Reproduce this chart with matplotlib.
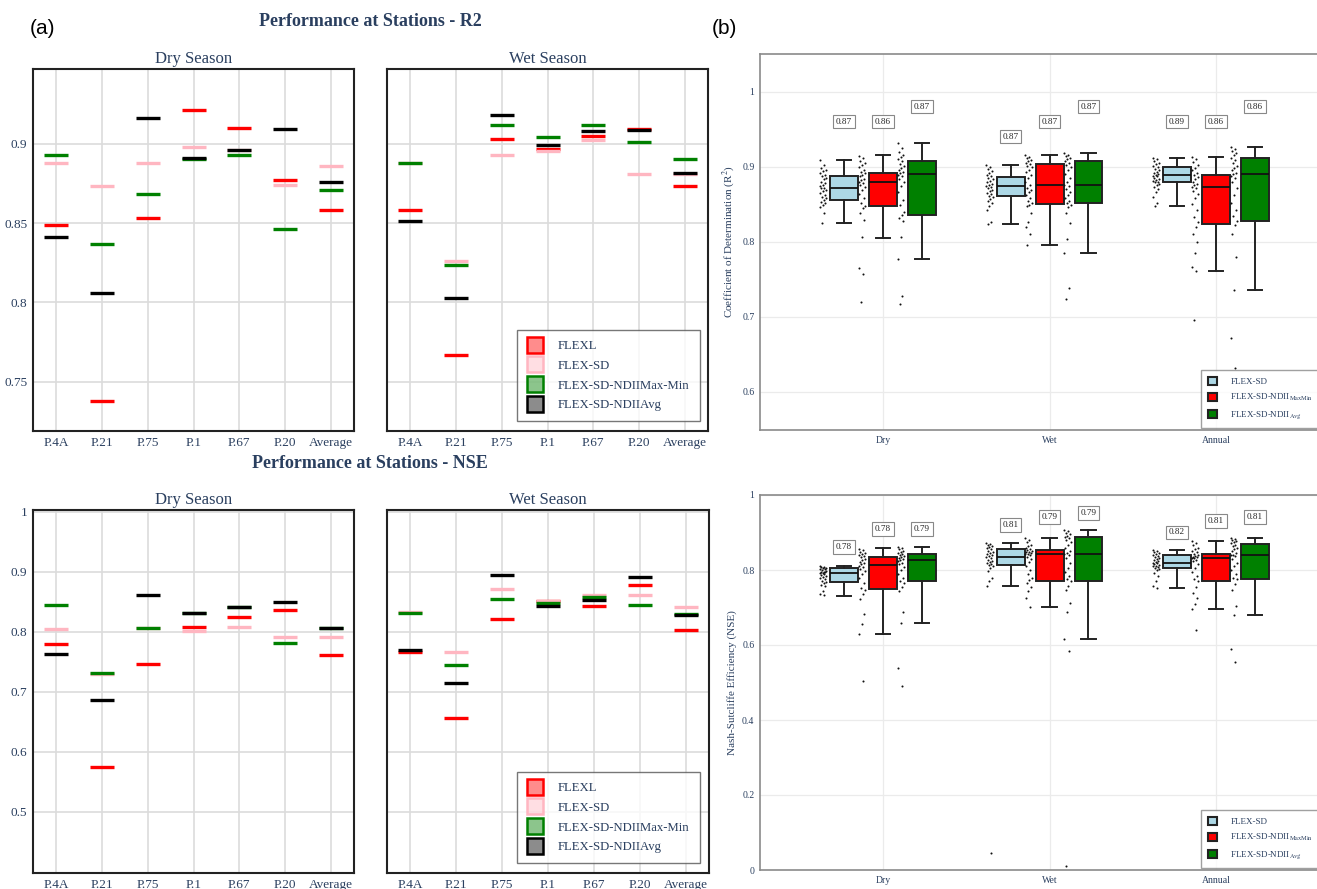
import numpy as np
import matplotlib
matplotlib.use('Agg')
import matplotlib.pyplot as plt
from matplotlib.lines import Line2D
from matplotlib.patches import Patch
from matplotlib.colors import to_rgba

plt.rcParams['font.family'] = ['Liberation Serif', 'DejaVu Serif']
plt.rcParams['mathtext.fontset'] = 'stix'

TXT = '#2a3f5f'
W, H = 1317, 889

# ---------------- (a) station scores ----------------
stations = ['P.4A', 'P.21', 'P.75', 'P.1', 'P.67', 'P.20', 'Average']
models_a = ['FLEXL', 'FLEX-SD', 'FLEX-SD-NDIIMax-Min', 'FLEX-SD-NDIIAvg']
colors_a = ['red', '#ffb6c1', 'green', 'black']

r2_dry_flexl = [0.849, 0.738, 0.853, 0.921, 0.910, 0.877, 0.858]
r2_dry_sd = [0.888, 0.873, 0.888, 0.898, 0.896, 0.874, 0.886]
r2_dry_maxmin = [0.893, 0.837, 0.868, 0.890, 0.893, 0.846, 0.871]
r2_dry_avg = [0.841, 0.806, 0.916, 0.891, 0.896, 0.909, 0.876]

r2_wet_flexl = [0.858, 0.767, 0.903, 0.8965, 0.905, 0.9095, 0.873]
r2_wet_sd = [0.888, 0.826, 0.893, 0.8955, 0.902, 0.881, 0.881]
r2_wet_maxmin = [0.888, 0.8235, 0.912, 0.904, 0.912, 0.901, 0.890]
r2_wet_avg = [0.851, 0.803, 0.918, 0.899, 0.908, 0.9088, 0.8816]

nse_dry_flexl = [0.779, 0.574, 0.747, 0.808, 0.824, 0.837, 0.761]
nse_dry_sd = [0.805, 0.730, 0.806, 0.802, 0.808, 0.792, 0.791]
nse_dry_maxmin = [0.844, 0.731, 0.806, 0.832, 0.841, 0.781, 0.806]
nse_dry_avg = [0.763, 0.687, 0.861, 0.8305, 0.842, 0.849, 0.8055]

nse_wet_flexl = [0.767, 0.656, 0.821, 0.852, 0.843, 0.878, 0.803]
nse_wet_sd = [0.833, 0.766, 0.872, 0.851, 0.861, 0.862, 0.841]
nse_wet_maxmin = [0.832, 0.744, 0.854, 0.848, 0.858, 0.844, 0.829]
nse_wet_avg = [0.769, 0.714, 0.894, 0.843, 0.853, 0.8915, 0.8285]

# ---------------- (b) box plots ----------------
seasons = ['Dry', 'Wet', 'Annual']
models_b = ['FLEX-SD', r'FLEX-SD-NDII$_{\mathrm{MaxMin}}$', r'FLEX-SD-NDII$_{\mathrm{Avg}}$']
colors_b = ['lightblue', 'red', 'green']

# per season: [FLEX-SD, MaxMin, Avg]
r2_whislo = [[0.825, 0.805, 0.777], [0.824, 0.795, 0.785], [0.848, 0.761, 0.735]]
r2_q1 = [[0.856, 0.847, 0.836], [0.861, 0.850, 0.851], [0.879, 0.824, 0.827]]
r2_med = [[0.872, 0.880, 0.890], [0.874, 0.876, 0.875], [0.889, 0.873, 0.890]]
r2_q3 = [[0.888, 0.892, 0.907], [0.886, 0.903, 0.908], [0.900, 0.889, 0.912]]
r2_whishi = [[0.909, 0.915, 0.932], [0.902, 0.915, 0.918], [0.912, 0.913, 0.926]]
r2_means = [[0.87, 0.86, 0.87], [0.87, 0.87, 0.87], [0.89, 0.86, 0.86]]

nse_whislo = [[0.732, 0.630, 0.660], [0.757, 0.701, 0.615], [0.753, 0.697, 0.681]]
nse_q1 = [[0.768, 0.750, 0.770], [0.813, 0.772, 0.771], [0.806, 0.772, 0.775]]
nse_med = [[0.793, 0.813, 0.826], [0.834, 0.842, 0.844], [0.820, 0.833, 0.840]]
nse_q3 = [[0.805, 0.835, 0.844], [0.855, 0.853, 0.889], [0.839, 0.844, 0.870]]
nse_whishi = [[0.811, 0.858, 0.861], [0.873, 0.886, 0.907], [0.853, 0.878, 0.886]]
nse_means = [[0.78, 0.78, 0.79], [0.81, 0.79, 0.79], [0.82, 0.81, 0.81]]

# station-level scores shown as dots next to each box
r2_pts = [
    [[0.909, 0.902, 0.898, 0.896, 0.894, 0.892, 0.889, 0.887, 0.885, 0.883, 0.880, 0.878, 0.876, 0.874, 0.872,
      0.871, 0.869, 0.867, 0.865, 0.862, 0.860, 0.858, 0.856, 0.853, 0.851, 0.849, 0.846, 0.838, 0.825],
     [0.914, 0.911, 0.908, 0.905, 0.902, 0.899, 0.896, 0.893, 0.891, 0.889, 0.887, 0.884, 0.882, 0.880, 0.878,
      0.876, 0.873, 0.869, 0.864, 0.858, 0.852, 0.848, 0.845, 0.838, 0.829, 0.806, 0.765, 0.757, 0.720],
     [0.932, 0.925, 0.920, 0.916, 0.913, 0.910, 0.907, 0.904, 0.901, 0.898, 0.895, 0.893, 0.891, 0.889, 0.887,
      0.884, 0.880, 0.874, 0.866, 0.855, 0.849, 0.840, 0.836, 0.832, 0.828, 0.806, 0.777, 0.728, 0.717]],
    [[0.902, 0.900, 0.897, 0.894, 0.891, 0.889, 0.887, 0.885, 0.883, 0.881, 0.879, 0.877, 0.875, 0.874, 0.873,
      0.871, 0.869, 0.867, 0.865, 0.863, 0.861, 0.859, 0.857, 0.854, 0.851, 0.848, 0.842, 0.826, 0.824],
     [0.915, 0.913, 0.911, 0.909, 0.907, 0.905, 0.903, 0.901, 0.899, 0.896, 0.893, 0.889, 0.885, 0.880, 0.876,
      0.872, 0.869, 0.866, 0.862, 0.858, 0.854, 0.851, 0.849, 0.847, 0.838, 0.826, 0.819, 0.810, 0.795],
     [0.918, 0.916, 0.914, 0.912, 0.910, 0.908, 0.905, 0.902, 0.899, 0.895, 0.890, 0.885, 0.880, 0.876, 0.874,
      0.870, 0.866, 0.862, 0.858, 0.854, 0.851, 0.849, 0.846, 0.838, 0.825, 0.803, 0.785, 0.738, 0.724]],
    [[0.912, 0.910, 0.908, 0.905, 0.903, 0.901, 0.899, 0.897, 0.895, 0.893, 0.891, 0.890, 0.889, 0.888, 0.887,
      0.885, 0.884, 0.882, 0.881, 0.880, 0.879, 0.877, 0.875, 0.873, 0.870, 0.866, 0.860, 0.851, 0.848],
     [0.913, 0.910, 0.906, 0.902, 0.898, 0.895, 0.891, 0.889, 0.886, 0.883, 0.880, 0.877, 0.875, 0.873, 0.871,
      0.868, 0.864, 0.858, 0.850, 0.842, 0.833, 0.826, 0.820, 0.810, 0.800, 0.785, 0.766, 0.761, 0.695],
     [0.926, 0.924, 0.921, 0.918, 0.915, 0.912, 0.909, 0.905, 0.901, 0.898, 0.895, 0.892, 0.890, 0.888, 0.885,
      0.880, 0.872, 0.862, 0.851, 0.842, 0.834, 0.827, 0.822, 0.810, 0.780, 0.735, 0.672, 0.631]],
]
nse_pts = [
    [[0.811, 0.809, 0.808, 0.806, 0.805, 0.804, 0.802, 0.800, 0.798, 0.796, 0.795, 0.794, 0.793, 0.791, 0.789,
      0.787, 0.784, 0.781, 0.778, 0.775, 0.771, 0.768, 0.765, 0.760, 0.757, 0.745, 0.735, 0.733],
     [0.857, 0.853, 0.849, 0.846, 0.843, 0.840, 0.837, 0.834, 0.830, 0.826, 0.822, 0.818, 0.815, 0.812, 0.808,
      0.803, 0.797, 0.789, 0.778, 0.765, 0.752, 0.748, 0.737, 0.724, 0.683, 0.655, 0.630, 0.505],
     [0.861, 0.858, 0.855, 0.852, 0.849, 0.846, 0.844, 0.841, 0.838, 0.835, 0.832, 0.829, 0.826, 0.823, 0.820,
      0.815, 0.808, 0.800, 0.790, 0.779, 0.771, 0.766, 0.755, 0.745, 0.688, 0.660, 0.540, 0.491]],
    [[0.873, 0.870, 0.867, 0.864, 0.861, 0.858, 0.855, 0.852, 0.849, 0.846, 0.843, 0.840, 0.837, 0.834, 0.831,
      0.828, 0.825, 0.821, 0.818, 0.815, 0.813, 0.810, 0.805, 0.798, 0.780, 0.770, 0.757, 0.045],
     [0.886, 0.880, 0.874, 0.868, 0.863, 0.859, 0.856, 0.853, 0.851, 0.849, 0.847, 0.845, 0.843, 0.842, 0.840,
      0.836, 0.830, 0.822, 0.812, 0.800, 0.790, 0.780, 0.773, 0.765, 0.755, 0.745, 0.725, 0.701],
     [0.907, 0.903, 0.899, 0.895, 0.892, 0.889, 0.885, 0.880, 0.874, 0.867, 0.860, 0.852, 0.846, 0.844, 0.840,
      0.832, 0.820, 0.805, 0.795, 0.785, 0.775, 0.771, 0.758, 0.748, 0.712, 0.688, 0.615, 0.585, 0.010]],
    [[0.853, 0.850, 0.847, 0.845, 0.842, 0.840, 0.838, 0.835, 0.832, 0.829, 0.826, 0.823, 0.821, 0.820, 0.818,
      0.816, 0.814, 0.812, 0.810, 0.808, 0.806, 0.803, 0.799, 0.793, 0.785, 0.770, 0.757, 0.753],
     [0.878, 0.872, 0.866, 0.860, 0.855, 0.851, 0.847, 0.844, 0.841, 0.838, 0.836, 0.834, 0.833, 0.831, 0.828,
      0.823, 0.815, 0.805, 0.795, 0.785, 0.775, 0.770, 0.755, 0.740, 0.725, 0.710, 0.697, 0.640],
     [0.886, 0.883, 0.880, 0.877, 0.874, 0.871, 0.868, 0.864, 0.859, 0.855, 0.850, 0.845, 0.841, 0.840, 0.837,
      0.830, 0.820, 0.810, 0.800, 0.790, 0.780, 0.775, 0.763, 0.748, 0.705, 0.681, 0.590, 0.555]],
]

# where the mean labels sit above the boxes
r2_label_y = [[0.960, 0.960, 0.980], [0.940, 0.960, 0.980], [0.960, 0.960, 0.980]]
nse_label_y = [[0.861, 0.910, 0.910], [0.920, 0.941, 0.952], [0.900, 0.931, 0.941]]


def px_axes(fig, x0, y0, x1, y1):
    return fig.add_axes([x0 / W, 1 - y1 / H, (x1 - x0) / W, (y1 - y0) / H])


fig = plt.figure(figsize=(W / 100, H / 100), dpi=100)


def station_panel(ax, series, ylim, yticks, title, show_y):
    x = np.arange(len(stations))
    for vals, col in zip(series, colors_a):
        ax.plot(x, vals, ls='none', marker='_', ms=17, mew=2.4, color=col, zorder=3)
    ax.set_xlim(-0.5, 6.5)
    ax.set_ylim(*ylim)
    ax.set_xticks(x)
    ax.set_xticklabels(stations)
    ax.set_yticks(yticks)
    ax.set_yticklabels([f'{t:g}' for t in yticks] if show_y else [])
    ax.tick_params(length=0, labelsize=9.5, labelcolor=TXT, pad=4)
    ax.grid(True, color='#dcdcdc', lw=1.2, zorder=0)
    ax.set_axisbelow(True)
    for s in ax.spines.values():
        s.set_color('#222222')
        s.set_linewidth(1.5)
    ax.set_title(title, fontsize=12, color=TXT, pad=4)


r2_ticks = [0.75, 0.8, 0.85, 0.9]
nse_ticks = [0.5, 0.6, 0.7, 0.8, 0.9, 1.0]

ax = px_axes(fig, 33, 69, 354, 431)
station_panel(ax, [r2_dry_flexl, r2_dry_sd, r2_dry_maxmin, r2_dry_avg], (0.719, 0.947), r2_ticks, 'Dry Season', True)
ax = px_axes(fig, 387, 69, 708, 431)
station_panel(ax, [r2_wet_flexl, r2_wet_sd, r2_wet_maxmin, r2_wet_avg], (0.719, 0.947), r2_ticks, 'Wet Season', False)
ax = px_axes(fig, 33, 510, 354, 873)
station_panel(ax, [nse_dry_flexl, nse_dry_sd, nse_dry_maxmin, nse_dry_avg], (0.398, 1.003), nse_ticks, 'Dry Season', True)
ax = px_axes(fig, 387, 510, 709, 873)
station_panel(ax, [nse_wet_flexl, nse_wet_sd, nse_wet_maxmin, nse_wet_avg], (0.398, 1.003), nse_ticks, 'Wet Season', False)

legend_a = [Line2D([], [], ls='none', marker='s', ms=11, mew=1.8, mec=c, mfc=to_rgba(c, 0.45))
            for c in colors_a]
for ytop in (330, 772):
    fig.legend(legend_a, models_a, loc='upper left', bbox_to_anchor=(517 / W, 1 - ytop / H),
               fontsize=9.2, labelcolor=TXT, frameon=True, fancybox=False, edgecolor='#555555',
               handlelength=1.2, handletextpad=1.2, labelspacing=0.6, borderpad=0.8, borderaxespad=0)

fig.text(370 / W, 1 - 21 / H, 'Performance at Stations - R2', ha='center', va='center',
         fontsize=13, weight='bold', color=TXT)
fig.text(370 / W, 1 - 463 / H, 'Performance at Stations - NSE', ha='center', va='center',
         fontsize=13, weight='bold', color=TXT)
fig.text(42 / W, 1 - 28 / H, '(a)', ha='center', va='center', fontsize=15, family='Liberation Sans')
fig.text(724 / W, 1 - 29 / H, '(b)', ha='center', va='center', fontsize=15, family='Liberation Sans')

# ---------------- (b) drawing ----------------
offsets = [-0.234, 0.0, 0.234]
box_w = 0.168


def box_panel(ax, whislo, q1, med, q3, whishi, means, pts, label_y, ylim, yticks, ylabel):
    for i in range(len(seasons)):
        for j in range(3):
            pos = i + offsets[j]
            stats = [dict(med=med[i][j], q1=q1[i][j], q3=q3[i][j],
                          whislo=whislo[i][j], whishi=whishi[i][j])]
            ax.bxp(stats, positions=[pos], widths=box_w, patch_artist=True, showfliers=False,
                   capwidths=0.085, manage_ticks=False,
                   boxprops=dict(facecolor=colors_b[j], edgecolor='#222222', lw=1.4),
                   medianprops=dict(color='#111111', lw=1.3),
                   whiskerprops=dict(color='#222222', lw=1.4),
                   capprops=dict(color='#222222', lw=1.4))
            vals = np.asarray(pts[i][j])
            k = np.arange(len(vals))
            jitter = ((k * 0.618) % 1 - 0.5) * 0.042
            ax.scatter(pos - 0.126 + jitter, vals, s=2.2, color='#111111', zorder=4, lw=0)
            ax.text(pos, label_y[i][j], f'{means[i][j]:.2f}', ha='center', va='center', fontsize=6.6,
                    color='#222222',
                    bbox=dict(boxstyle='square,pad=0.3', fc='white', ec='#888888', lw=0.8))
    ax.set_xlim(-0.739, 3.105)
    ax.set_ylim(*ylim)
    ax.set_xticks(range(len(seasons)))
    ax.set_xticklabels(seasons)
    ax.set_yticks(yticks)
    ax.set_yticklabels([f'{t:g}' for t in yticks])
    ax.tick_params(length=0, labelsize=7, labelcolor=TXT, pad=4)
    ax.grid(True, color='#ebebeb', lw=0.9, zorder=0)
    ax.set_axisbelow(True)
    for s in ax.spines.values():
        s.set_color('#8a8a8a')
        s.set_linewidth(1.2)
    ax.set_ylabel(ylabel, fontsize=8, color=TXT, labelpad=4)


ax = px_axes(fig, 760, 54, 1400, 430)
box_panel(ax, r2_whislo, r2_q1, r2_med, r2_q3, r2_whishi, r2_means, r2_pts, r2_label_y,
          (0.549, 1.05), [0.6, 0.7, 0.8, 0.9, 1.0], 'Coefficient of Determination (R$^2$)')
ax = px_axes(fig, 760, 495, 1400, 870)
box_panel(ax, nse_whislo, nse_q1, nse_med, nse_q3, nse_whishi, nse_means, nse_pts, nse_label_y,
          (0.0, 1.0), [0, 0.2, 0.4, 0.6, 0.8, 1.0], 'Nash-Sutcliffe Efficiency (NSE)')

legend_b = [Patch(facecolor=c, edgecolor='#222222', lw=1.5) for c in colors_b]
for ytop in (370, 810):
    fig.legend(legend_b, models_b, loc='upper left', bbox_to_anchor=(1201 / W, 1 - ytop / H),
               fontsize=6.5, labelcolor=TXT, frameon=True, fancybox=False, edgecolor='#888888',
               handlelength=0.95, handleheight=0.95, handletextpad=1.5, labelspacing=0.65,
               borderpad=0.8, borderaxespad=0)

fig.savefig('out.png', dpi=100)
